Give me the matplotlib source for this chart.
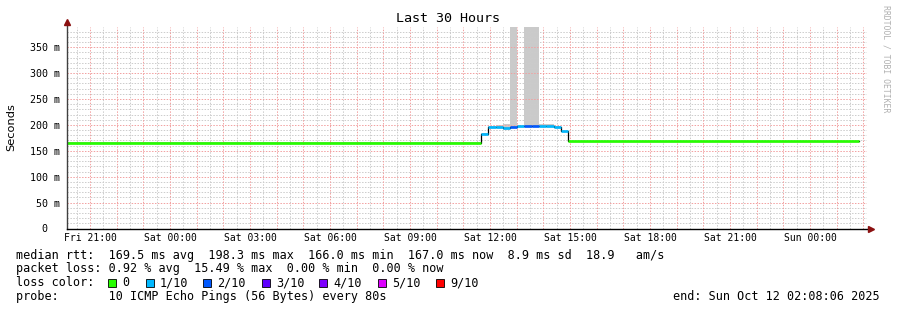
import numpy as np
import matplotlib
matplotlib.use('Agg')
import matplotlib.pyplot as plt
from matplotlib.patches import Rectangle

# hours since Fri 00:00 (chart runs Fri 20:08:06 .. Sun 02:08:06)
seg_edges = [20.135, 35.660, 35.932, 36.204, 36.476, 36.747, 37.019, 37.291,
             37.563, 37.835, 38.107, 38.379, 38.650, 38.922, 49.835]
median_ms = [166.0, 182.5, 196.0, 195.5, 194.7, 196.6, 197.5, 197.4,
             198.3, 197.5, 197.0, 195.5, 187.8, 168.0]
loss_tenths = [0, 1, 1, 1, 1, 2, 1, 2, 2, 1, 1, 1, 1, 0]
smoke_max_ms = [166.5, 183.5, 197.5, 200.5, 201.0, 420.0, 198.5, 420.0,
                420.0, 201.5, 201.0, 197.0, 189.0, 168.5]

x_ticks = [21, 24, 27, 30, 33, 36, 39, 42, 45, 48]
x_labels = ['Fri 21:00', 'Sat 00:00', 'Sat 03:00', 'Sat 06:00', 'Sat 09:00',
            'Sat 12:00', 'Sat 15:00', 'Sat 18:00', 'Sat 21:00', 'Sun 00:00']
y_ticks = [0, 50, 100, 150, 200, 250, 300, 350]
y_labels = ['0  ', '50 m', '100 m', '150 m', '200 m', '250 m', '300 m', '350 m']

loss_names = ['0', '1/10', '2/10', '3/10', '4/10', '5/10', '9/10']
loss_keys = [0, 1, 2, 3, 4, 5, 9]
loss_colors = ['#26ff00', '#00b8ff', '#0059ff', '#5e00ff', '#7e00ff', '#dd00ff', '#ff0000']
color_of = dict(zip(loss_keys, loss_colors))

W, H = 897, 310
MONO = 'DejaVu Sans Mono'

fig = plt.figure(figsize=(W / 100, H / 100), dpi=100)
fig.patch.set_facecolor('white')

def fx(x):
    return x / W

def fy(y):
    return 1 - y / H

ax = fig.add_axes([fx(67), fy(228.5), (867 - 67) / W, (228.5 - 27) / H])
ax.set_xlim(20.135, 50.135)
ax.set_ylim(0, 389)
for s in ax.spines.values():
    s.set_visible(False)

# grid (drawn over the smoke, under the lines)
gl = dict(lw=0.7, zorder=2)
for h in np.arange(20.5, 50.2, 0.5):
    if h % 1 != 0:
        ax.axvline(h, color='#cccccc', ls=(0, (1.5, 1.5)), **gl)
for v in range(10, 390, 10):
    if v % 50 != 0:
        ax.axhline(v, color='#cccccc', ls=(0, (1.5, 1.5)), **gl)
for h in range(21, 51):
    ax.axvline(h, color='#f2a0a0', ls=(0, (1.5, 1.5)), **gl)
for v in range(50, 390, 50):
    ax.axhline(v, color='#f2a0a0', ls=(0, (1.5, 1.5)), **gl)

# smoke
edges = np.array(seg_edges)
med = np.array(median_ms)
smk = np.array(smoke_max_ms)
for i in range(len(med)):
    if smk[i] > med[i]:
        ax.fill_between([edges[i], edges[i + 1]], med[i], smk[i],
                        color='#cacaca', lw=0, zorder=1)

# median line: black step + loss coloured segments
ax.step(edges, np.append(med, med[-1]), where='post', color='black', lw=0.9, zorder=3)
ax.hlines(med, edges[:-1], edges[1:], colors=[color_of[l] for l in loss_tenths],
          lw=1.9, zorder=4)

# axes lines with arrows
ax.plot([0, 0], [0, 1.027], transform=ax.transAxes, color='#404040', lw=1, clip_on=False, zorder=5)
ax.plot([0, 1.005], [0, 0], transform=ax.transAxes, color='black', lw=1, clip_on=False, zorder=5)
ax.plot([0], [1.027], marker='^', ms=4.5, color='#8b1010', transform=ax.transAxes, clip_on=False, zorder=6)
ax.plot([1.005], [0], marker='>', ms=4.5, color='#8b1010', transform=ax.transAxes, clip_on=False, zorder=6)

ax.set_xticks(x_ticks)
ax.set_xticklabels(x_labels, family=MONO, fontsize=7)
ax.set_yticks(y_ticks)
ax.set_yticklabels(y_labels, family=MONO, fontsize=7.2)
ax.tick_params(axis='x', length=0, pad=3)
ax.tick_params(axis='y', length=0, pad=5)

fig.text(fx(448), fy(19), 'Last 30 Hours', family=MONO, fontsize=9.6, ha='center', va='center')
fig.text(fx(11), fy(127), 'Seconds', family='DejaVu Sans', fontsize=8.2, rotation=90,
         ha='center', va='center')
fig.text(fx(886), fy(5), 'RRDTOOL / TOBI OETIKER', family=MONO, fontsize=5.9, rotation=270,
         ha='center', va='top', color='#b0b0b0')

# legend
leg = dict(family=MONO, fontsize=8.45, va='center', ha='left')
fig.text(fx(16), fy(255), 'median rtt:  169.5 ms avg  198.3 ms max  166.0 ms min  '
         '167.0 ms now  8.9 ms sd  18.9   am/s', **leg)
fig.text(fx(16), fy(268.5), 'packet loss: 0.92 % avg  15.49 % max  0.00 % min  0.00 % now', **leg)
fig.text(fx(16), fy(282.5), 'loss color:', **leg)
box_x = [108, 146, 203, 262, 319, 378, 436]
for bx, name, col in zip(box_x, loss_names, loss_colors):
    fig.add_artist(Rectangle((fx(bx), fy(287)), 8 / W, 8 / H, transform=fig.transFigure,
                             facecolor=col, edgecolor='black', lw=0.6))
    fig.text(fx(bx + 14), fy(282.5), name, **leg)
fig.text(fx(16), fy(296.5), 'probe:       10 ICMP Echo Pings (56 Bytes) every 80s', **leg)
fig.text(fx(880), fy(296.5), 'end: Sun Oct 12 02:08:06 2025', family=MONO, fontsize=8.45,
         va='center', ha='right')

fig.savefig('out.png', dpi=100, facecolor='white')
